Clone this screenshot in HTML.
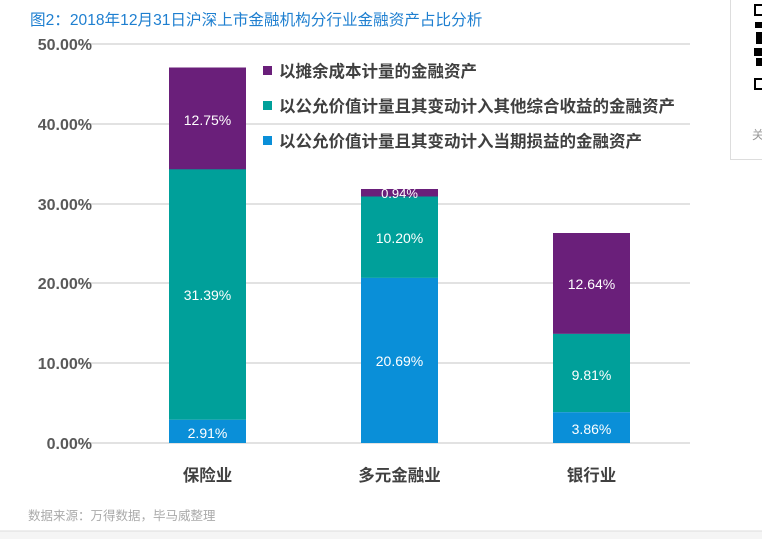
<!DOCTYPE html>
<html><head><meta charset="utf-8"><style>
body{margin:0;width:762px;height:539px;background:#fff;overflow:hidden;position:relative;font-family:"Liberation Sans","Noto Sans CJK SC",sans-serif}
.a{position:absolute}
</style></head><body>
<div class="a" style="left:30px;top:8px;font-size:15.6px;color:#1e7fd0;white-space:nowrap">图2：2018年12月31日沪深上市金融机构分行业金融资产占比分析</div>
<div class="a" style="left:730px;top:0;width:40px;height:159px;border-left:1px solid #ddd;border-bottom:1px solid #ddd"></div>
<div class="a" style="left:754px;top:4px;width:8px;height:12px;border:2px solid #000;border-right:none;box-sizing:border-box"></div>
<div class="a" style="left:755px;top:22px;width:7px;height:6px;background:#000"></div>
<div class="a" style="left:756px;top:32px;width:6px;height:12px;background:#000"></div>
<div class="a" style="left:754px;top:48px;width:8px;height:8px;background:#000"></div>
<div class="a" style="left:756px;top:58px;width:6px;height:8px;background:#000"></div>
<div class="a" style="left:754px;top:78px;width:8px;height:12px;border:2px solid #000;border-right:none;box-sizing:border-box"></div>
<div class="a" style="left:752px;top:126px;font-size:12px;color:#999">关</div>
<svg class="a" style="left:0;top:0" width="762" height="539">
<g stroke="#d9d9d9" stroke-width="1.5">
<line x1="76" x2="690" y1="44" y2="44"/><line x1="76" x2="690" y1="124" y2="124"/><line x1="76" x2="690" y1="204" y2="204"/><line x1="76" x2="690" y1="283" y2="283"/><line x1="76" x2="690" y1="363" y2="363"/><line x1="76" x2="690" y1="443" y2="443"/>
</g>
<g font-size="16" font-weight="bold" fill="#595959" text-anchor="end" font-family="Liberation Sans,sans-serif">
<text x="92" y="50">50.00%</text><text x="92" y="130">40.00%</text><text x="92" y="210">30.00%</text><text x="92" y="289">20.00%</text><text x="92" y="369">10.00%</text><text x="92" y="449">0.00%</text>
</g>
<rect x="169" y="67.5" width="77" height="102" fill="#6a1f7a"/>
<rect x="169" y="169.3" width="77" height="250.5" fill="#00a09a"/>
<rect x="169" y="419.8" width="77" height="23.2" fill="#0a8fd8"/>
<rect x="361" y="189" width="77" height="7.5" fill="#6a1f7a"/>
<rect x="361" y="196.5" width="77" height="81.4" fill="#00a09a"/>
<rect x="361" y="277.9" width="77" height="165.1" fill="#0a8fd8"/>
<rect x="553" y="233" width="77" height="100.9" fill="#6a1f7a"/>
<rect x="553" y="333.9" width="77" height="78.3" fill="#00a09a"/>
<rect x="553" y="412.2" width="77" height="30.8" fill="#0a8fd8"/>
<g font-size="14" fill="#fff" text-anchor="middle" font-family="Liberation Sans,sans-serif">
<text x="207.5" y="125">12.75%</text><text x="207.5" y="300">31.39%</text><text x="207.5" y="438">2.91%</text>
<text x="399.5" y="198" font-size="13">0.94%</text><text x="399.5" y="243">10.20%</text><text x="399.5" y="366">20.69%</text>
<text x="591.5" y="289">12.64%</text><text x="591.5" y="380">9.81%</text><text x="591.5" y="434">3.86%</text>
</g>
<rect x="263" y="66" width="9" height="9" fill="#6a1f7a"/>
<rect x="263" y="101" width="9" height="9" fill="#00a09a"/>
<rect x="263" y="136" width="9" height="9" fill="#0a8fd8"/>
<g font-size="16.5" font-weight="bold" fill="#404040" font-family="Liberation Sans,Noto Sans CJK SC,sans-serif">
<text x="279" y="77">以摊余成本计量的金融资产</text>
<text x="279" y="112">以公允价值计量且其变动计入其他综合收益的金融资产</text>
<text x="279" y="147">以公允价值计量且其变动计入当期损益的金融资产</text>
</g>
<g font-size="16.5" font-weight="bold" fill="#404040" text-anchor="middle" font-family="Liberation Sans,Noto Sans CJK SC,sans-serif">
<text x="207.5" y="481">保险业</text><text x="399.5" y="481">多元金融业</text><text x="591.5" y="481">银行业</text>
</g>
<text x="28" y="520" font-size="12.5" fill="#aaa" font-family="Liberation Sans,Noto Sans CJK SC,sans-serif">数据来源：万得数据，毕马威整理</text>
<rect x="0" y="531" width="762" height="8" fill="#f5f5f5"/>
<line x1="0" x2="762" y1="531" y2="531" stroke="#ddd"/>
</svg>
</body></html>
